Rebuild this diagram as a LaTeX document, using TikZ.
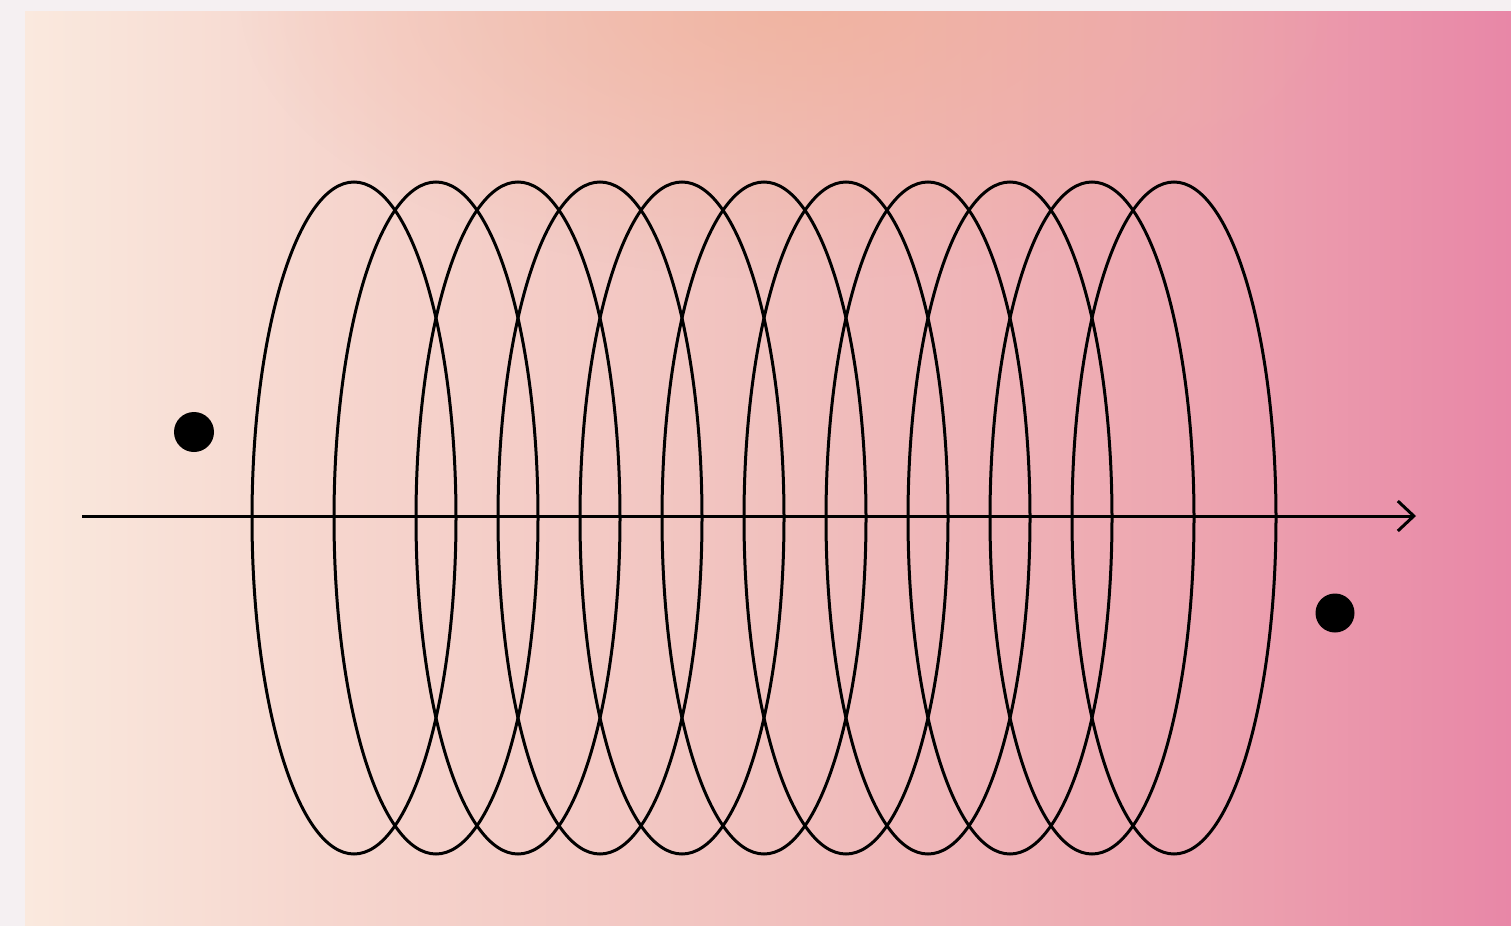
\documentclass[tikz,border=0pt]{standalone}
\usetikzlibrary{arrows.meta,fadings}
\definecolor{framegray}{HTML}{F5F0F2}
\definecolor{bgA}{HTML}{FAE9DE}
\definecolor{bgB}{HTML}{F6D6CE}
\definecolor{bgC}{HTML}{F1C1BE}
\definecolor{bgD}{HTML}{EDA6B0}
\definecolor{bgE}{HTML}{E887A7}
\definecolor{glowc}{HTML}{F0AE92}
\pgfdeclarehorizontalshading{bgshade}{100bp}{color(0bp)=(bgA); color(25bp)=(bgA); color(35bp)=(bgB); color(50bp)=(bgC); color(64bp)=(bgD); color(75bp)=(bgE); color(100bp)=(bgE)}
\tikzfading[name=glowfade, inner color=transparent!35, outer color=transparent!100]
\tikzset{
  coil/.style={draw=black, line width=1.5pt},
  axisline/.style={draw=black, line width=1.5pt, -{Straight Barb[length=8pt,width=15pt,line width=1.5pt]}},
  charge/.style={fill=black}
}
\begin{document}
\begin{tikzpicture}[x=0.5pt,y=-0.5pt]
\useasboundingbox (0,0) rectangle (1511,926);
\fill[framegray] (0,0) rectangle (1511,926);
\shade[shading=bgshade] (25,11) rectangle (1511,926);
\begin{scope}
\clip (25,11) rectangle (1511,926);
\fill[glowc, path fading=glowfade] (800,0) ellipse [x radius=560, y radius=280];
\end{scope}
% coils
\foreach \i in {0,...,10}{
  \draw[coil] ({354+82*\i},518) ellipse [x radius=102, y radius=336];
}
% axis
\coordinate (axstart) at (82,516);
\coordinate (axend) at (1416,516);
\draw[axisline] (axstart) -- (axend);
% charges
\fill[charge] (194,432) circle (20);
\fill[charge] (1335,613) circle (19.5);
\end{tikzpicture}
\end{document}
